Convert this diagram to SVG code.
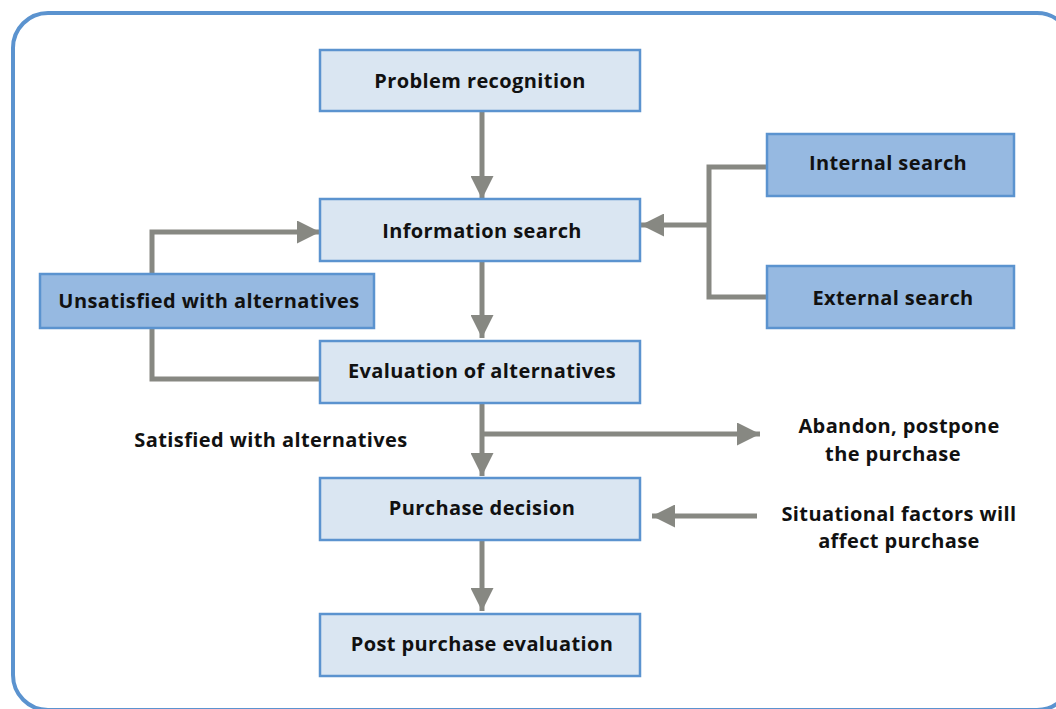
<svg xmlns="http://www.w3.org/2000/svg" width="1056" height="709" viewBox="0 0 1056 709">
<style>
.frame{fill:#ffffff;stroke:#5b93cf;stroke-width:4}
.light{fill:#dae6f2;stroke:#5b93cf;stroke-width:2.5}
.dark{fill:#96b9e1;stroke:#5b93cf;stroke-width:2.5}
.t{font-family:"Open Sans","Liberation Sans",Arial,sans-serif;font-weight:bold;font-size:20px;letter-spacing:0.4px;fill:#111;text-anchor:middle;dominant-baseline:central}
.c{fill:none;stroke:#878882;stroke-width:5}
</style>
<defs>
<marker id="ah" viewBox="0 0 10 10" refX="10" refY="5" markerWidth="4.6" markerHeight="4.6" markerUnits="strokeWidth" orient="auto">
<path d="M0,0 L10,5 L0,10 z" fill="#878882"/>
</marker>
</defs>
<rect class="frame" x="13" y="13" width="1059" height="697" rx="35" ry="35"/>
<g id="connectors">
<path class="c" d="M482,111 V199" marker-end="url(#ah)"/>
<path class="c" d="M482,261 V338" marker-end="url(#ah)"/>
<path class="c" d="M482,403 V476" marker-end="url(#ah)"/>
<path class="c" d="M482,434 H760" marker-end="url(#ah)"/>
<path class="c" d="M482,540 V611" marker-end="url(#ah)"/>
<path class="c" d="M757,516 H652" marker-end="url(#ah)"/>
<path class="c" d="M767,167 H709 V297 H767"/>
<path class="c" d="M709,225 H641" marker-end="url(#ah)"/>
<path class="c" d="M152,274 V232 H320" marker-end="url(#ah)"/>
<path class="c" d="M152,328 V379 H320"/>
</g>
<g id="problem-recognition"><rect class="light" x="320" y="50" width="320" height="61"/><text class="t" x="480" y="80">Problem recognition</text></g>
<g id="information-search"><rect class="light" x="320" y="199" width="320" height="62"/><text class="t" x="482" y="230">Information search</text></g>
<g id="evaluation"><rect class="light" x="320" y="341" width="320" height="62"/><text class="t" x="482" y="370">Evaluation of alternatives</text></g>
<g id="purchase-decision"><rect class="light" x="320" y="478" width="320" height="62"/><text class="t" x="482" y="507">Purchase decision</text></g>
<g id="post-purchase"><rect class="light" x="320" y="614" width="320" height="62"/><text class="t" x="482" y="643">Post purchase evaluation</text></g>
<g id="unsatisfied"><rect class="dark" x="40" y="274" width="334" height="54"/><text class="t" x="209" y="300">Unsatisfied with alternatives</text></g>
<g id="internal-search"><rect class="dark" x="767" y="134" width="247" height="62"/><text class="t" x="888" y="162">Internal search</text></g>
<g id="external-search"><rect class="dark" x="767" y="266" width="247" height="62"/><text class="t" x="893" y="297">External search</text></g>
<g id="labels">
<text class="t" x="271" y="439">Satisfied with alternatives</text>
<text class="t" x="899" y="425">Abandon, postpone</text>
<text class="t" x="893" y="453">the purchase</text>
<text class="t" x="899" y="513">Situational factors will</text>
<text class="t" x="899" y="540">affect purchase</text>
</g>
</svg>
